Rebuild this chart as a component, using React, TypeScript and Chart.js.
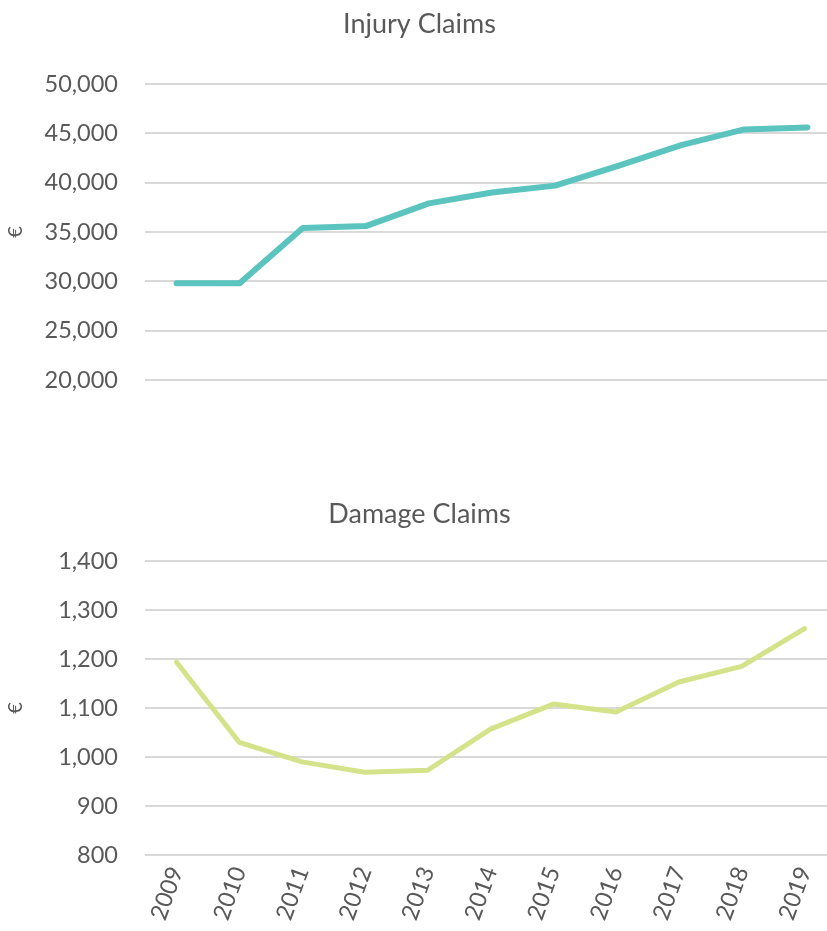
import React, { useEffect, useRef } from "react";
import { Chart, registerables } from "chart.js";

Chart.register(...registerables);

const years = ["2009", "2010", "2011", "2012", "2013", "2014", "2015", "2016", "2017", "2018", "2019"];
const injuryClaims = [29800, 29800, 35400, 35600, 37900, 39000, 39700, 41700, 43800, 45400, 45600];
const damageClaims = [1194, 1030, 990, 969, 973, 1057, 1108, 1092, 1153, 1185, 1262];
const injuryTicks = { min: 20000, max: 50000, step: 5000 };
const damageTicks = { min: 800, max: 1400, step: 100 };

const FONT = "Lato, 'Noto Sans', sans-serif";
const TEXT = "#595959";
const GRID = "#d9d9d9";
const W = 839;
const TICK_SIZE = 23.5;
const TITLE_SIZE = 27;

function makeConfig(
  title: string,
  data: number[],
  color: string,
  lw: number,
  ticks: { min: number; max: number; step: number },
  showX: boolean,
  titlePad: { top: number; bottom: number },
  bottomPad: number
): any {
  return {
    type: "line",
    data: {
      labels: years,
      datasets: [
        {
          data,
          borderColor: color,
          backgroundColor: color,
          borderWidth: lw,
          pointRadius: 0,
          tension: 0,
          borderCapStyle: "round",
          borderJoinStyle: "round",
        },
      ],
    },
    options: {
      animation: false,
      responsive: false,
      maintainAspectRatio: false,
      layout: { padding: { left: 0, right: 0, top: 0, bottom: bottomPad } },
      plugins: {
        legend: { display: false },
        tooltip: { enabled: false },
        title: {
          display: true,
          text: title,
          color: TEXT,
          font: { family: FONT, size: TITLE_SIZE, weight: "normal", lineHeight: 1.2 },
          padding: titlePad,
        },
      },
      scales: {
        x: {
          display: showX,
          offset: true,
          grid: { display: false, drawTicks: false },
          border: { display: false },
          ticks: {
            color: TEXT,
            font: { family: FONT, size: TICK_SIZE },
            minRotation: 70,
            maxRotation: 70,
            padding: 8,
          },
          afterFit: (s: any) => {
            s.height = showX ? 76 : 0;
          },
        },
        y: {
          min: ticks.min,
          max: ticks.max,
          grid: { color: GRID, lineWidth: 2, drawTicks: false },
          border: { display: false },
          ticks: {
            stepSize: ticks.step,
            color: TEXT,
            padding: 27,
            font: { family: FONT, size: TICK_SIZE },
            callback: (v: any) => Number(v).toLocaleString("en-US"),
          },
          title: {
            display: true,
            text: "€",
            color: TEXT,
            font: { family: FONT, size: 20 },
            padding: { top: 4, bottom: 0 },
          },
          afterFit: (s: any) => {
            s.width = 145;
          },
        },
      },
    },
  };
}

function ChartBox({ cfg, height }: { cfg: any; height: number }) {
  const ref = useRef<HTMLCanvasElement>(null);
  useEffect(() => {
    if (!ref.current) return;
    const c = new Chart(ref.current, cfg);
    return () => c.destroy();
  }, []);
  return <canvas ref={ref} width={W} height={height} style={{ display: "block", width: W, height }} />;
}

export default function App() {
  const top = makeConfig("Injury Claims", injuryClaims, "#5bc4bf", 6, injuryTicks, false, { top: 8, bottom: 43.6 }, 60);
  const bottom = makeConfig("Damage Claims", damageClaims, "#d4e38a", 5, damageTicks, true, { top: 58, bottom: 30.6 }, 0);
  return (
    <div style={{ position: "absolute", left: 0, top: 0, width: 827, height: 931, overflow: "hidden", background: "#fff" }}>
      <ChartBox cfg={top} height={440} />
      <ChartBox cfg={bottom} height={491} />
    </div>
  );
}
